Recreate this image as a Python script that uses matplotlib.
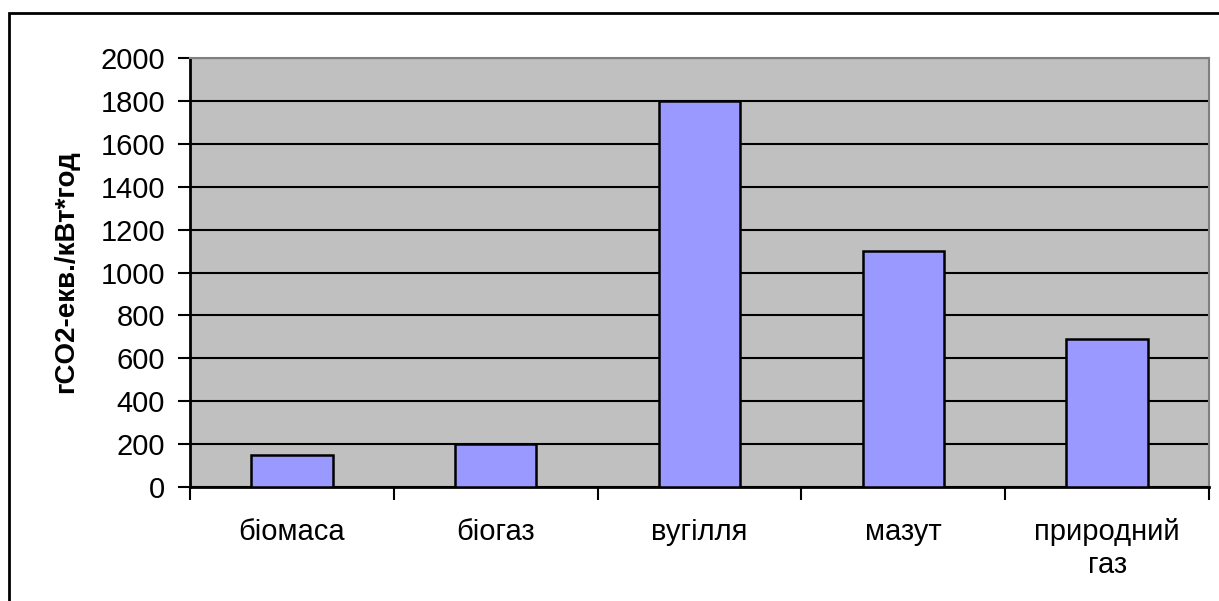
import matplotlib.pyplot as plt
import numpy as np
from matplotlib.patches import Rectangle

plt.rcParams['font.family'] = ['Liberation Sans', 'DejaVu Sans']

fuels = ['біомаса', 'біогаз', 'вугілля', 'мазут', 'природний\nгаз']
emissions = [150, 200, 1800, 1100, 690]
y_ticks = np.arange(0, 2001, 200)

fig = plt.figure(figsize=(12.19, 6.01), dpi=100)
# outer frame of the chart (right and bottom run off the picture)
fig.patches.append(Rectangle((9 / 1219, -0.05), 1.2, 1 - 13 / 601 + 0.05,
                             transform=fig.transFigure, fill=False,
                             edgecolor='black', linewidth=2))

ax = fig.add_axes([190 / 1219, 1 - 487 / 601, 1019 / 1219, 429 / 601])
ax.set_facecolor('#c0c0c0')

x = np.arange(len(fuels))
ax.bar(x, emissions, width=0.4, color='#9999ff', edgecolor='black',
       linewidth=1.8, zorder=3)

ax.set_xlim(-0.5, len(fuels) - 0.5)
ax.set_ylim(0, 2000)
ax.set_yticks(y_ticks)
ax.yaxis.grid(True, color='black', linewidth=1.5, zorder=0)
ax.set_axisbelow(True)

# category labels centred, ticks on category boundaries
ax.set_xticks(x)
ax.set_xticklabels(fuels, fontsize=21, linespacing=1.25)
ax.tick_params(axis='x', which='major', length=0, pad=22)
ax.set_xticks(np.arange(-0.5, len(fuels)), minor=True)
ax.tick_params(axis='x', which='minor', length=9, width=1.5, direction='out')
ax.tick_params(axis='y', length=9, width=1.5, direction='out', pad=9,
               labelsize=21)

for side in ['left', 'bottom']:
    ax.spines[side].set_linewidth(2)
    ax.spines[side].set_color('black')
for side in ['top', 'right']:
    ax.spines[side].set_linewidth(1.5)
    ax.spines[side].set_color('#808080')

fig.text(66 / 1219, 1 - 272 / 601, 'гCO2-екв./кВт*год', rotation=90,
         fontsize=20, fontweight='bold', ha='center', va='center')

plt.savefig('out.png', dpi=100)
